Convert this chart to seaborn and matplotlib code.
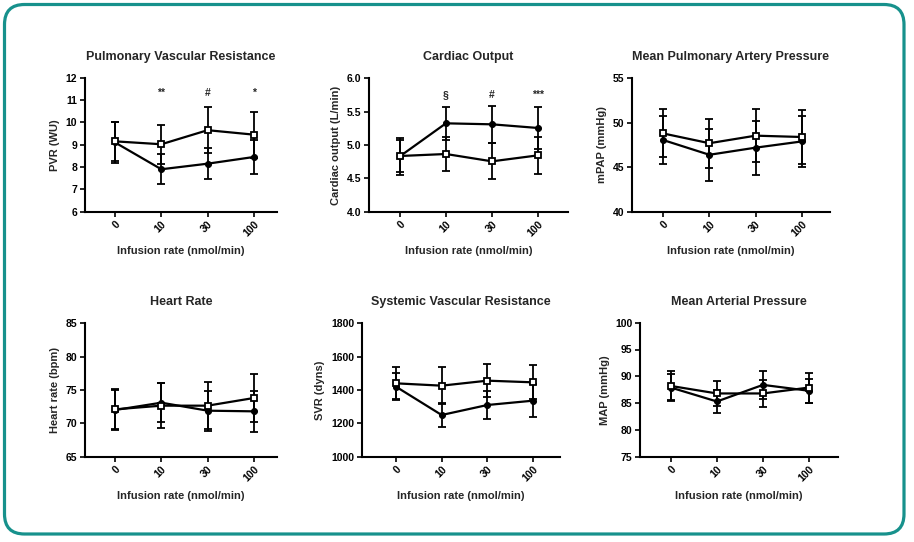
import numpy as np
import pandas as pd
import matplotlib
matplotlib.use("Agg")
import matplotlib.pyplot as plt
from matplotlib.patches import FancyBboxPatch
import seaborn as sns

sns.set_theme(style="ticks")
plt.rcParams['font.family'] = ['Liberation Sans', 'DejaVu Sans']
plt.rcParams['font.weight'] = 'bold'

rates = ["0", "10", "30", "100"]

titles = ["Pulmonary Vascular Resistance", "Cardiac Output", "Mean Pulmonary Artery Pressure",
          "Heart Rate", "Systemic Vascular Resistance", "Mean Arterial Pressure"]
ylabels = ["PVR (WU)", "Cardiac output (L/min)", "mPAP (mmHg)",
           "Heart rate (bpm)", "SVR (dyns)", "MAP (mmHg)"]

# open squares series (mean, sd)
pvr_open = [9.15, 9.02, 9.65, 9.45]
pvr_open_sd = [0.88, 0.88, 1.03, 1.03]
pvr_fill = [9.10, 7.90, 8.15, 8.45]
pvr_fill_sd = [0.90, 0.68, 0.70, 0.77]

co_open = [4.835, 4.865, 4.755, 4.845]
co_open_sd = [0.24, 0.255, 0.27, 0.28]
co_fill = [4.83, 5.325, 5.31, 5.255]
co_fill_sd = [0.28, 0.25, 0.275, 0.31]

mpap_open = [48.8, 47.7, 48.55, 48.4]
mpap_open_sd = [2.7, 2.76, 2.95, 3.0]
mpap_fill = [48.06, 46.4, 47.2, 47.9]
mpap_fill_sd = [2.7, 2.9, 3.05, 2.9]

hr_open = [72.1, 72.65, 72.65, 73.8]
hr_open_sd = [3.0, 3.4, 3.5, 3.6]
hr_fill = [72.0, 73.1, 71.9, 71.8]
hr_fill_sd = [3.0, 2.9, 3.0, 3.1]

svr_open = [1440, 1426, 1456, 1446]
svr_open_sd = [96, 110, 100, 102]
svr_fill = [1420, 1250, 1310, 1336]
svr_fill_sd = [80, 72, 84, 100]

map_open = [88.2, 86.8, 86.8, 87.9]
map_open_sd = [2.7, 2.4, 2.6, 2.8]
map_fill = [87.9, 85.3, 88.4, 87.3]
map_fill_sd = [2.5, 2.1, 2.65, 2.2]

sig_pvr = ["", "**", "#", "*"]
sig_co = ["", "§", "#", "***"]

panels = [
    (pvr_open, pvr_open_sd, pvr_fill, pvr_fill_sd, (6, 12), [6, 7, 8, 9, 10, 11, 12], None, sig_pvr, 11.3),
    (co_open, co_open_sd, co_fill, co_fill_sd, (4.0, 6.0), [4.0, 4.5, 5.0, 5.5, 6.0], "{:.1f}", sig_co, 5.75),
    (mpap_open, mpap_open_sd, mpap_fill, mpap_fill_sd, (40, 55), [40, 45, 50, 55], None, None, None),
    (hr_open, hr_open_sd, hr_fill, hr_fill_sd, (65, 85), [65, 70, 75, 80, 85], None, None, None),
    (svr_open, svr_open_sd, svr_fill, svr_fill_sd, (1000, 1800), [1000, 1200, 1400, 1600, 1800], None, None, None),
    (map_open, map_open_sd, map_fill, map_fill_sd, (75, 100), [75, 80, 85, 90, 95, 100], None, None, None),
]

# axes boxes in pixels: left, right, top, bottom; and xlim
W, H = 914, 542
boxes = [(85, 277, 77.7, 211.7), (369, 568, 78.3, 211.7), (631.7, 830, 78.3, 211.7),
         (85, 277, 323.3, 456.7), (361.7, 560, 323.3, 456.7), (640, 838, 322.7, 456.7)]
xlims = [(-0.65, 3.5), (-0.67, 3.65), (-0.68, 3.61), (-0.65, 3.5), (-0.75, 3.59), (-0.67, 3.63)]

fig = plt.figure(figsize=(W / 100, H / 100), dpi=100)
fig.patch.set_facecolor("white")

for i, (pan, box, xl) in enumerate(zip(panels, boxes, xlims)):
    o, osd, f, fsd, ylim, yticks, fmt, sig, sigy = pan
    l, r, t, b = box
    ax = fig.add_axes([l / W, 1 - b / H, (r - l) / W, (b - t) / H])
    x = np.arange(4)
    df = pd.DataFrame({"x": np.concatenate([x, x]),
                       "y": np.concatenate([f, o]),
                       "g": ["fill"] * 4 + ["open"] * 4})
    # error bars
    ax.errorbar(x, f, yerr=fsd, fmt="none", ecolor="black", elinewidth=1.3, capsize=3, capthick=1.3, zorder=2)
    ax.errorbar(x, o, yerr=osd, fmt="none", ecolor="black", elinewidth=1.3, capsize=3, capthick=1.3, zorder=2)
    sns.lineplot(data=df[df.g == "fill"], x="x", y="y", ax=ax, color="black", lw=1.6,
                 marker="o", markersize=4.3, markerfacecolor="black", markeredgecolor="black", zorder=3)
    sns.lineplot(data=df[df.g == "open"], x="x", y="y", ax=ax, color="black", lw=1.6,
                 marker="s", markersize=5, markerfacecolor="white", markeredgecolor="black",
                 markeredgewidth=1.3, zorder=4)
    ax.set_xlim(*xl)
    ax.set_ylim(*ylim)
    ax.set_yticks(yticks)
    if fmt:
        ax.set_yticklabels([fmt.format(v) for v in yticks])
    ax.set_xticks(x)
    ax.set_xticklabels(rates, rotation=45, ha="right", rotation_mode="anchor")
    for lab in ax.get_xticklabels() + ax.get_yticklabels():
        lab.set_fontsize(7.5)
        lab.set_fontweight("bold")
    ax.tick_params(axis="both", length=3.5, width=1.2, pad=2, colors="black")
    for s in ["top", "right"]:
        ax.spines[s].set_visible(False)
    for s in ["left", "bottom"]:
        ax.spines[s].set_linewidth(1.5)
        ax.spines[s].set_color("black")
    ax.set_xlabel("Infusion rate (nmol/min)", fontsize=8, fontweight="bold", labelpad=5)
    ax.set_ylabel(ylabels[i], fontsize=8, fontweight="bold", labelpad=4)
    ax.set_title(titles[i], fontsize=9, fontweight="bold", pad=13)
    ax.set_facecolor("white")
    if sig:
        for xi, s in zip(x, sig):
            if s:
                ax.text(xi, sigy, s, ha="center", va="center", fontsize=7.5, fontweight="bold")

border = FancyBboxPatch((4.5, H - 534), 904 - 4.5, 534 - 4.5,
                        boxstyle="round,pad=0,rounding_size=20",
                        transform=None, fill=False, edgecolor="#17918c", linewidth=2.3)
fig.patches.append(border)

fig.savefig("out.png", dpi=100, facecolor="white")
